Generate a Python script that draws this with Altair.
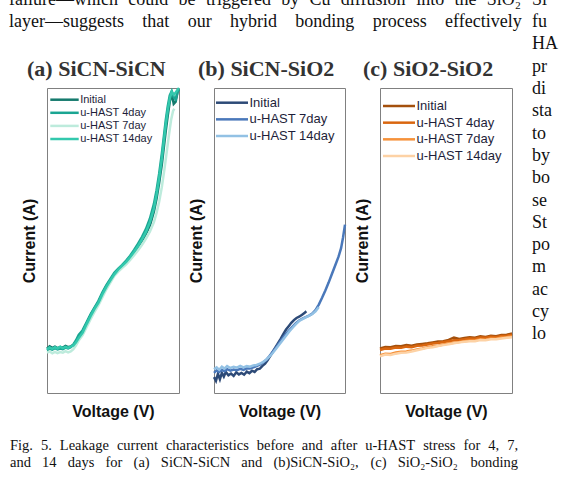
import altair as alt
import pandas as pd

# ---------------- data (arbitrary units, 0-100 on both axes) ----------------
SERIES_A = ["Initial", "u-HAST 4day", "u-HAST 7day", "u-HAST 14day"]
COLORS_A = ["#157a6d", "#1aa592", "#bdebdc", "#33c8ad"]
SERIES_B = ["Initial", "u-HAST 7day", "u-HAST 14day"]
COLORS_B = ["#2d4a77", "#4a78ba", "#92c1e4"]
SERIES_C = ["Initial", "u-HAST 4day", "u-HAST 7day", "u-HAST 14day"]
COLORS_C = ["#a4500c", "#d9660f", "#f6923a", "#fdd2a5"]

A_X = [0, 2, 4, 6, 8, 10, 12, 14, 16, 18, 20, 22, 24, 27, 30, 33, 36, 39, 42, 45,
       48, 51, 54, 57, 60, 63, 66, 69, 72, 75, 78, 81, 83, 85, 87, 88.5, 90, 91.5, 93, 94.5,
       96, 97.5, 99, 100]
A_INIT_Y = [14.6, 15.3, 14.8, 15.2, 14.7, 15.1, 14.9, 15.4, 15.0, 15.3, 15.8, 16.8, 18.2, 20.0, 22.8, 25.5, 27.8, 29.8, 32.5, 35.0,
            37.0, 39.0, 40.3, 41.5, 42.8, 44.5, 46.2, 48.0, 50.0, 52.2, 55.0, 59.5, 63.8, 69.0, 75.0, 80.5, 86.0, 91.0, 95.5, 98.2,
            94.8, 95.5, 99.0, 99.6]
A_4D_Y = [14.0, 14.5, 14.2, 14.7, 14.3, 14.6, 14.4, 14.9, 14.6, 15.0, 15.9, 17.3, 19.0, 20.6, 23.2, 25.8, 28.0, 30.2, 33.0, 35.4,
          37.4, 39.4, 40.8, 42.0, 43.4, 45.0, 46.9, 49.0, 51.2, 53.8, 57.2, 62.0, 66.5, 72.0, 78.5, 84.0, 89.5, 94.0, 97.6, 99.0,
          97.0, 96.2, 98.8, 99.4]
A_7D_X = [0, 2, 4, 6, 8, 10, 12, 14, 16, 18, 20, 22, 24, 27, 30, 33, 36, 39, 42, 45,
          48, 51, 54, 57, 60, 63, 66, 69, 72, 75, 78, 81, 83, 85, 87, 89, 91, 92.5, 94, 95.5, 96.5]
A_7D_Y = [13.2, 13.6, 13.0, 13.5, 13.1, 13.4, 13.2, 13.7, 13.3, 13.6, 14.4, 15.6, 17.2, 19.0, 21.6, 24.2, 26.6, 28.8, 31.4, 34.0,
          36.2, 38.4, 39.8, 41.0, 42.2, 43.6, 45.2, 46.8, 48.6, 50.6, 53.0, 56.0, 59.0, 62.8, 67.5, 73.5, 80.0, 85.0, 89.5, 92.5,
          93.2]
A_14D_Y = [14.3, 14.9, 14.5, 15.0, 14.6, 15.2, 14.7, 15.1, 14.8, 15.2, 15.6, 16.6, 18.0, 19.8, 22.6, 25.2, 27.6, 29.6, 32.4, 34.8,
           36.9, 38.9, 40.5, 41.8, 43.0, 44.6, 46.3, 48.2, 50.4, 52.8, 56.0, 60.5, 65.0, 70.5, 76.8, 82.5, 88.0, 92.8, 96.5, 98.8,
           97.8, 98.5, 99.5, 100.0]

B_INIT_X = [0, 1.5, 3, 4.5, 6, 7.5, 9, 11, 13, 15, 17, 19, 21, 23, 25, 27, 29, 31, 33, 35,
            37, 39, 41, 43, 45, 47, 49, 51, 53, 55, 57, 59, 61, 63, 65, 67, 69, 70.5]
B_INIT_Y = [5.2, 4.0, 6.3, 4.5, 6.6, 5.4, 6.9, 5.8, 6.4, 5.6, 6.8, 6.1, 6.6, 6.0, 7.0, 6.5, 7.3, 6.9, 7.8, 8.0,
            8.9, 9.6, 10.8, 12.2, 13.6, 15.0, 16.4, 17.8, 19.4, 20.8, 21.9, 23.0, 23.9, 24.6, 25.0, 25.6, 26.2, 26.8]
B_7D_X = [0, 2, 4, 6, 8, 10, 12.5, 15, 17.5, 20, 22.5, 25, 27.5, 30, 32.5, 35, 37.5, 40, 42.5, 45,
          47.5, 50, 52.5, 55, 57.5, 60, 62.5, 65, 67.5, 70, 72.5, 75, 77.5, 80, 82.5, 85, 87.5, 90, 92.5, 95,
          97, 98.5, 100]
B_7D_Y = [6.6, 7.4, 6.9, 7.6, 7.1, 7.8, 7.3, 7.7, 7.5, 7.9, 7.6, 8.1, 8.0, 8.4, 8.8, 9.3, 10.0, 10.9, 12.2, 13.6,
          15.0, 16.6, 18.0, 19.4, 20.6, 21.8, 22.9, 23.8, 24.4, 24.9, 25.4, 26.0, 27.2, 29.0, 31.2, 33.6, 36.2, 39.0, 41.8, 44.6,
          47.5, 51.0, 55.2]
B_14D_X = [0, 2, 4, 6, 8, 10, 12.5, 15, 17.5, 20, 22.5, 25, 27.5, 30, 32.5, 35, 37.5, 40, 42.5, 45,
           47.5, 50, 52.5, 55, 57.5, 60, 62.5, 65, 67.5, 70, 72.5, 75, 77.5, 80]
B_14D_Y = [7.8, 8.4, 7.6, 8.6, 8.0, 8.8, 8.2, 8.6, 8.3, 8.9, 8.4, 8.8, 8.6, 9.0, 9.2, 9.6, 10.2, 11.0, 12.0, 13.2,
           14.6, 16.0, 17.4, 18.8, 20.2, 21.4, 22.6, 23.6, 24.2, 24.8, 25.3, 25.9, 26.8, 28.2]

C_X = [0, 4, 8, 12, 16, 20, 24, 28, 32, 36, 40, 44, 48, 52, 56, 60, 64, 68, 72, 76, 80, 84, 88, 92, 96, 100]
C_INIT_Y = [14.6, 15.1, 15.0, 15.4, 15.3, 15.7, 15.5, 15.9, 16.1, 16.3, 16.6, 16.9, 17.0, 17.4, 18.2, 17.7, 18.0, 18.3,
            18.1, 18.6, 18.4, 18.8, 18.6, 19.0, 19.1, 19.5]
C_4D_Y = [14.1, 14.6, 14.5, 14.9, 14.8, 15.2, 15.0, 15.5, 15.6, 15.9, 16.2, 16.4, 16.7, 17.0, 17.3, 17.4, 17.6, 17.9,
          17.8, 18.2, 18.1, 18.4, 18.3, 18.7, 18.8, 19.1]
C_7D_Y = [12.4, 12.9, 12.8, 13.3, 13.5, 13.6, 13.9, 14.3, 14.6, 15.0, 15.3, 15.5, 15.9, 16.2, 16.5, 16.7, 17.0, 17.2,
          17.2, 17.6, 17.5, 17.9, 17.8, 18.2, 18.3, 18.6]
C_14D_Y = [12.0, 12.6, 12.5, 12.9, 13.2, 13.3, 13.6, 14.0, 14.4, 14.8, 15.0, 15.4, 15.7, 16.0, 16.3, 16.6, 16.8, 17.0,
           17.0, 17.4, 17.3, 17.6, 17.6, 17.9, 18.1, 18.3]

TITLES = ["(a) SiCN-SiCN", "(b) SiCN-SiO2", "(c) SiO2-SiO2"]

# surrounding page text
TOP_LINES = ["failure\u2014which could be triggered by Cu diffusion into the SiO\u2082",
             "layer\u2014suggests that our hybrid bonding process effectively"]
CAPTION_LINES = ["Fig. 5. Leakage current characteristics before and after u-HAST stress for 4, 7,",
                 "and 14 days for (a) SiCN-SiCN and (b)SiCN-SiO\u2082, (c) SiO\u2082-SiO\u2082 bonding"]
RIGHT_COL = ["Sl", "fu", "HA", "pr", "di", "sta", "to", "by", "bo", "se", "St", "po", "m", "ac", "cy", "lo"]

# ---------------- layout constants ----------------
W = [132, 131, 132]
H = 305
SPACING = 35
ORIGIN = (46, 87)  # page position of panel (a) plot area
SERIF = "Liberation Serif, Times New Roman, serif"
AX_FONT = "Liberation Sans, Arial, sans-serif"

TW = dict(zip("abcdefghijklmnopqrstuvwxyz",
              [444, 500, 444, 500, 444, 333, 500, 500, 278, 278, 500, 278, 778, 500, 500, 500, 500, 333, 389, 278,
               500, 500, 722, 500, 500, 444]))
TW.update(dict(zip("ABCDEFGHIJKLMNOPQRSTUVWXYZ",
                   [722, 667, 667, 722, 611, 556, 722, 722, 333, 389, 722, 611, 889, 722, 722, 556, 722, 667, 556, 611,
                    722, 722, 944, 722, 722, 611])))
TW.update({" ": 250, ".": 250, ",": 250, "-": 333, "(": 333, ")": 333, "\u2014": 1000, "\u2082": 400})


def tw(s, fs):
    return sum(TW.get(ch, 500) for ch in s) / 1000.0 * fs


def justified(line, left, right, y, fs):
    words = line.split(" ")
    widths = [tw(w, fs) for w in words]
    gap = (right - left - sum(widths)) / max(1, len(words) - 1)
    gap = max(gap, 0.2 * fs)
    rows, x = [], left
    for w, wd in zip(words, widths):
        rows.append({"px": x - ORIGIN[0], "py": y - ORIGIN[1], "t": w, "fs": fs})
        x += wd + gap
    return rows


page_rows = []
page_rows += justified(TOP_LINES[0], 8, 521, -1.2, 18)
page_rows += justified(TOP_LINES[1], 8, 521, 20.6, 18)
page_rows += justified(CAPTION_LINES[0], 9, 517, 445, 14.5)
page_rows += justified(CAPTION_LINES[1], 9, 517, 462, 14.5)
for i, frag in enumerate(RIGHT_COL):
    page_rows.append({"px": 531 - ORIGIN[0], "py": -1.2 + 22.3 * i - ORIGIN[1], "t": frag, "fs": 18})
page_df = pd.DataFrame(page_rows)


def long_df(items):
    rows = []
    for name, xs, ys in items:
        for x, y in zip(xs, ys):
            rows.append({"x": x, "y": y, "series": name})
    return pd.DataFrame(rows)


df_a = long_df([(SERIES_A[0], A_X, A_INIT_Y), (SERIES_A[1], A_X, A_4D_Y),
                (SERIES_A[2], A_7D_X, A_7D_Y), (SERIES_A[3], A_X, A_14D_Y)])
df_b = long_df([(SERIES_B[0], B_INIT_X, B_INIT_Y), (SERIES_B[1], B_7D_X, B_7D_Y),
                (SERIES_B[2], B_14D_X, B_14D_Y)])
df_c = long_df([(SERIES_C[0], C_X, C_INIT_Y), (SERIES_C[1], C_X, C_4D_Y),
                (SERIES_C[2], C_X, C_7D_Y), (SERIES_C[3], C_X, C_14D_Y)])


def panel(df, names, colors, title, title_dx, leg):
    color = alt.Color("series:N", scale=alt.Scale(domain=names, range=colors), legend=None)
    xaxis = alt.Axis(title="Voltage (V)", labels=False, ticks=False, domain=False, grid=False,
                     titleFont=AX_FONT, titleFontSize=16, titleFontWeight="bold", titleColor="#111111",
                     titlePadding=10)
    yaxis = alt.Axis(title="Current (A)", labels=False, ticks=False, domain=False, grid=False,
                     titleFont=AX_FONT, titleFontSize=16, titleFontWeight="bold", titleColor="#111111",
                     titlePadding=10)
    lines = alt.Chart(df).mark_line(strokeWidth=2.5).encode(
        x=alt.X("x:Q", scale=alt.Scale(domain=[0, 100], nice=False, zero=False), axis=xaxis),
        y=alt.Y("y:Q", scale=alt.Scale(domain=[0, 100], nice=False, zero=False), axis=yaxis),
        color=color,
    )
    ldf = pd.DataFrame({"series": names})
    ly = alt.Y("series:N", axis=None,
               scale=alt.Scale(type="point", domain=names, range=[leg["y0"], leg["y1"]], padding=0))
    rule = alt.Chart(ldf).mark_rule(strokeWidth=2.5).encode(
        x=alt.value(leg["x0"]), x2=alt.value(leg["x1"]), y=ly, color=color)
    text = alt.Chart(ldf).mark_text(align="left", baseline="middle", font=AX_FONT,
                                    fontSize=leg["fs"], color="#1e1e3a").encode(
        x=alt.value(leg["x1"] + 1.5), y=ly, text="series:N")
    ttl = alt.Chart(pd.DataFrame({"t": [title]})).mark_text(
        align="left", baseline="alphabetic", font=SERIF, fontSize=22, fontWeight="bold",
        color="#333333").encode(x=alt.value(title_dx), y=alt.value(-12), text="t:N")
    return [lines, rule, text, ttl]


la = panel(df_a, SERIES_A, COLORS_A, TITLES[0], -20,
           {"x0": 3.3, "x1": 31.7, "y0": 11.7, "y1": 51, "fs": 11})
lb = panel(df_b, SERIES_B, COLORS_B, TITLES[1], -16,
           {"x0": 2, "x1": 34, "y0": 14.7, "y1": 48, "fs": 13})
lc = panel(df_c, SERIES_C, COLORS_C, TITLES[2], -17,
           {"x0": 3, "x1": 35, "y0": 18, "y1": 68, "fs": 13})

page_text = alt.Chart(page_df).mark_text(align="left", baseline="middle", font=SERIF,
                                         color="#111111").encode(
    x=alt.X("px:Q", scale=None, axis=None),
    y=alt.Y("py:Q", scale=None, axis=None),
    size=alt.Size("fs:Q", scale=None, legend=None),
    text="t:N",
)

pa = alt.layer(*la, page_text).resolve_scale(x="independent", y="independent").properties(width=W[0], height=H)
pb = alt.layer(*lb).resolve_scale(x="independent", y="independent").properties(width=W[1], height=H)
pc = alt.layer(*lc).resolve_scale(x="independent", y="independent").properties(width=W[2], height=H)

chart = alt.hconcat(pa, pb, pc, spacing=SPACING, bounds="flush").resolve_scale(
    color="independent", x="independent", y="independent"
).properties(
    padding={"left": 8, "top": -10, "right": 0, "bottom": 0},
    background="white",
).configure_view(stroke="#808080", strokeWidth=1)

chart.save("out.html", embed_options={"renderer": "svg", "actions": False})
